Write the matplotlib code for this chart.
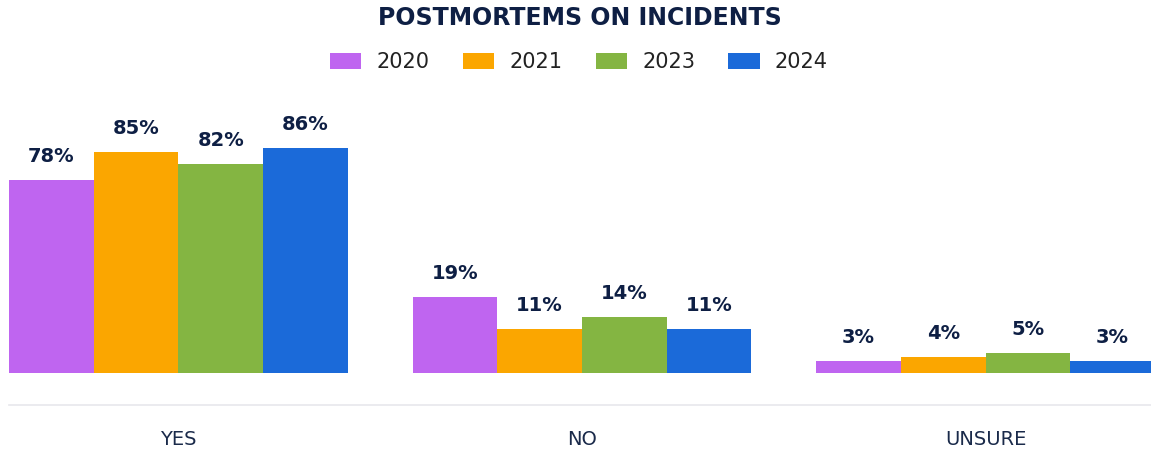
import numpy as np
import matplotlib
matplotlib.use("Agg")
import matplotlib.pyplot as plt
from matplotlib.patches import Patch

# Postmortems on incidents, share of answers per survey year
categorias = ["YES", "NO", "UNSURE"]
anos = ["2020", "2021", "2023", "2024"]
valores_2020 = [78, 19, 3]
valores_2021 = [85, 11, 4]
valores_2023 = [82, 14, 5]
valores_2024 = [86, 11, 3]

cores = ["#bf65f0", "#fba600", "#84b542", "#1b6ad9"]
azul_escuro = "#0e1f44"


def comprime(v):
    # escala com quebra: 20..50 quase não ocupa espaço
    v = np.asarray(v, dtype=float)
    return np.where(v <= 20, v, np.where(v >= 50, v - 29.8, 20 + (v - 20) * 0.2 / 30))


def expande(f):
    f = np.asarray(f, dtype=float)
    return np.where(f <= 20, f, np.where(f >= 20.2, f + 29.8, 20 + (f - 20) * 150))


fig = plt.figure(figsize=(11.51, 4.49), dpi=100)
ax = fig.add_axes([0, 76.3 / 449, 1, 272.7 / 449])
ax.set_yscale("function", functions=(comprime, expande))

series = [valores_2020, valores_2021, valores_2023, valores_2024]
x = np.arange(len(categorias))
largura = 0.21

for i, (vals, cor) in enumerate(zip(series, cores)):
    pos = x + (i - 1.5) * largura
    ax.bar(pos, vals, width=largura, color=cor, label=anos[i])
    for xb, v in zip(pos, vals):
        ax.annotate(f"{v}%", (xb, v), xytext=(0, 10), textcoords="offset points",
                    ha="center", va="bottom", fontsize=14, fontweight="bold",
                    color=azul_escuro)

ax.set_xlim(-178.5 / 403.5, (1151 - 178.5) / 403.5)
ax.set_ylim(0, 98)

# linha cinza abaixo das barras (deslocamento em pontos: 32 px = 23 pt)
for lado in ["top", "right", "left"]:
    ax.spines[lado].set_visible(False)
ax.spines["bottom"].set_position(("outward", 23))
ax.spines["bottom"].set_color("#e8e8ec")
ax.spines["bottom"].set_linewidth(1.2)
ax.spines["bottom"].set_bounds(-0.42, 2.5)
ax.set_yticks([])
ax.set_xticks(x)
ax.set_xticklabels(categorias, fontsize=14, color="#1a2a4a")
ax.tick_params(axis="x", length=0, pad=18)
ax.patch.set_visible(False)

fig.text(0.504, 0.96, "POSTMORTEMS ON INCIDENTS", ha="center", va="center",
         fontsize=17, fontweight="bold", color=azul_escuro)

handles = [Patch(facecolor=c, edgecolor="none") for c in cores]
fig.legend(handles, anos, loc="center", bbox_to_anchor=(579 / 1151, 1 - 62.5 / 449),
           ncol=4, frameon=False, fontsize=15, handlelength=1.5, handleheight=0.78,
           handletextpad=0.73, columnspacing=1.6, labelcolor="#222222")

fig.savefig("out.png", dpi=100)
